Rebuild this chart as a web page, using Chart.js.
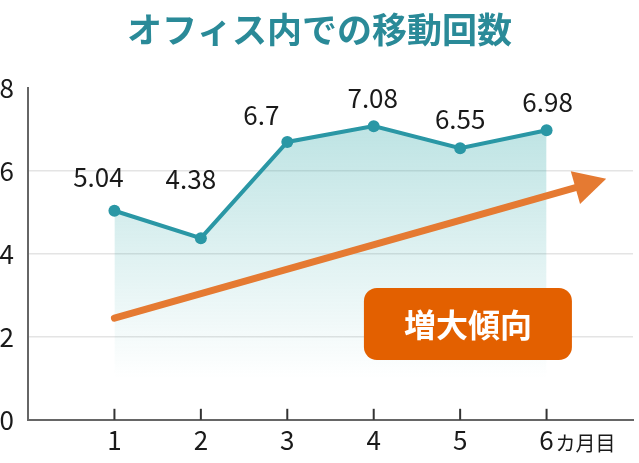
<!DOCTYPE html>
<html>
<head>
<meta charset="utf-8">
<script src="https://cdn.jsdelivr.net/npm/chart.js@4.4.0/dist/chart.umd.min.js"></script>
<style>
  html, body { margin: 0; padding: 0; background: #fff; overflow: hidden; }
  canvas { display: block; }
</style>
</head>
<body>
<canvas id="moveChart" width="639" height="463"></canvas>
<script>
// ---- Datos ----
const titleText = 'オフィス内での移動回数';
const months = [1, 2, 3, 4, 5, 6];
const moves = [5.04, 4.38, 6.7, 7.08, 6.55, 6.98];
const moveLabels = ['5.04', '4.38', '6.7', '7.08', '6.55', '6.98'];
const unitText = 'カ月目';
const trendFrom = [1, 2.45];
const trendTo = [6.69, 5.81];
const badgeText = '増大傾向';

const FONT = '"Noto Sans CJK JP", "Noto Sans", sans-serif';
const TEAL = '#2a97a5';
const ORANGE = '#e57a32';

// desplazamiento de etiquetas de valor (px)
const labelShift = [[-16, -34], [-10, -59], [-26, -27], [-1, -28], [0, -29], [1, -28]];

// ---- Plugin: marcas, flecha, cartel, etiquetas ----
const extras = {
  id: 'extras',
  afterDatasetsDraw(chart) {
    const { ctx, scales: { x, y }, chartArea } = chart;
    ctx.save();

    // marcas hacia dentro en el eje X
    ctx.strokeStyle = '#333';
    ctx.lineWidth = 2;
    months.forEach(m => {
      const px = x.getPixelForValue(m);
      ctx.beginPath();
      ctx.moveTo(px, chartArea.bottom - 11);
      ctx.lineTo(px, chartArea.bottom);
      ctx.stroke();
    });

    // flecha de tendencia
    const x0 = x.getPixelForValue(trendFrom[0]), y0 = y.getPixelForValue(trendFrom[1]);
    const x1 = x.getPixelForValue(trendTo[0]), y1 = y.getPixelForValue(trendTo[1]);
    const ang = Math.atan2(y1 - y0, x1 - x0);
    const headLen = 32, headHalf = 17;
    const bx = x1 - headLen * Math.cos(ang), by = y1 - headLen * Math.sin(ang);
    ctx.strokeStyle = ORANGE;
    ctx.fillStyle = ORANGE;
    ctx.lineWidth = 7;
    ctx.lineCap = 'round';
    ctx.beginPath();
    ctx.moveTo(x0, y0);
    ctx.lineTo(bx + 2 * Math.cos(ang), by + 2 * Math.sin(ang));
    ctx.stroke();
    ctx.beginPath();
    ctx.moveTo(x1, y1);
    ctx.lineTo(bx + headHalf * Math.sin(ang), by - headHalf * Math.cos(ang));
    ctx.lineTo(bx - headHalf * Math.sin(ang), by + headHalf * Math.cos(ang));
    ctx.closePath();
    ctx.fill();

    // cartel
    const cx = x.getPixelForValue(5.09), cy = y.getPixelForValue(2.31);
    const w = 208, h = 72;
    ctx.fillStyle = '#e36000';
    ctx.beginPath();
    ctx.roundRect(cx - w / 2, cy - h / 2, w, h, 13);
    ctx.fill();
    ctx.fillStyle = '#fff';
    ctx.font = 'bold 32px ' + FONT;
    ctx.textAlign = 'center';
    ctx.textBaseline = 'middle';
    ctx.fillText(badgeText, cx, cy + 1);

    // etiquetas de valor
    const meta = chart.getDatasetMeta(0);
    ctx.fillStyle = '#1a1a1a';
    ctx.font = '26px ' + FONT;
    meta.data.forEach((pt, i) => {
      ctx.fillText(moveLabels[i], pt.x + labelShift[i][0], pt.y + labelShift[i][1]);
    });

    // sufijo "カ月目"
    ctx.font = '20px ' + FONT;
    ctx.textAlign = 'left';
    ctx.fillText(unitText, x.getPixelForValue(6) + 9, chartArea.bottom + 24);

    ctx.restore();
  }
};

// ---- Gráfico ----
const moveCtx = document.getElementById('moveChart');
const moveChart = new Chart(moveCtx, {
  type: 'line',
  data: {
    datasets: [{
      data: months.map((m, i) => ({ x: m, y: moves[i] })),
      borderColor: TEAL,
      borderWidth: 4,
      pointRadius: 6,
      pointBackgroundColor: TEAL,
      pointBorderWidth: 0,
      tension: 0,
      fill: 'origin',
      backgroundColor: (c) => {
        const { chart } = c;
        if (!chart.chartArea) return 'rgba(42,160,165,0.2)';
        const yS = chart.scales.y;
        const g = chart.ctx.createLinearGradient(0, yS.getPixelForValue(7), 0, yS.getPixelForValue(1.0));
        g.addColorStop(0, 'rgba(42,165,165,0.30)');
        g.addColorStop(1, 'rgba(42,165,165,0)');
        return g;
      }
    }]
  },
  options: {
    responsive: false,
    animation: false,
    layout: { padding: { left: 0, right: 0, top: 0, bottom: 2 } },
    plugins: {
      legend: { display: false },
      tooltip: { enabled: false },
      title: {
        display: true,
        text: titleText,
        color: '#2a8a98',
        font: { family: FONT, size: 35, weight: 'bold' },
        padding: { top: 9, bottom: 37 }
      }
    },
    scales: {
      x: {
        type: 'linear',
        min: 0,
        max: 7,
        afterFit: s => { s.paddingRight = 0; s.paddingLeft = 0; },
        grid: { display: false, drawTicks: false },
        border: { color: '#666', width: 2 },
        ticks: {
          stepSize: 1,
          padding: 5,
          color: '#1a1a1a',
          font: { family: FONT, size: 26 },
          callback: v => (v >= 1 && v <= 6 ? String(v) : '')
        }
      },
      y: {
        min: 0,
        max: 8,
        afterFit: s => { s.width = 28; },
        grid: {
          drawTicks: false,
          lineWidth: 1.5,
          color: c => (c.tick.value === 0 || c.tick.value === 8 ? 'rgba(0,0,0,0)' : '#e4e4e4')
        },
        border: { color: '#666', width: 2 },
        ticks: {
          stepSize: 2,
          padding: 14,
          color: '#1a1a1a',
          font: { family: FONT, size: 26 }
        }
      }
    }
  },
  plugins: [extras]
});
</script>
</body>
</html>
